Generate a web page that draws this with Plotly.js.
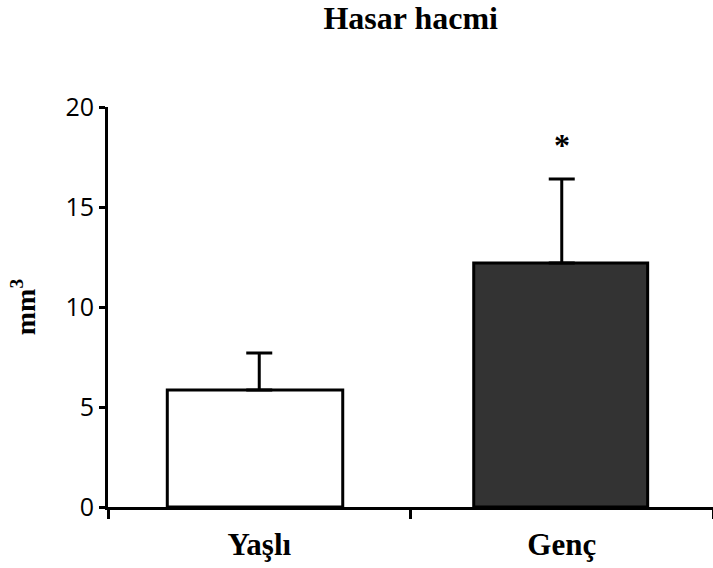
<!DOCTYPE html>
<html>
<head>
<meta charset="utf-8">
<script src="https://cdn.plot.ly/plotly-3.0.1.min.js"></script>
<style>
  html, body { margin: 0; padding: 0; background: #ffffff; }
  #chart { width: 713px; height: 568px; }
</style>
</head>
<body>
<div id="chart"></div>
<script>
// Lesion volume (mm³) by age group: mean with upward SD bar
const groups = ['Yaşlı', 'Genç'];
const means = [5.85, 12.2];
const sd = [1.85, 4.2];
const fills = ['#ffffff', '#333333'];
const significance = ['', '*'];

const serif = 'Liberation Serif, Times New Roman, serif';
const sans = 'Open Sans, Noto Sans, sans-serif';

const bars = {
  type: 'bar',
  x: groups,
  y: means,
  width: [0.58, 0.575],
  offset: [-0.304, -0.291],
  marker: { color: fills, line: { color: '#000000', width: 3 } },
  hoverinfo: 'none'
};

// SD whiskers centred on each category
const whiskers = {
  type: 'scatter',
  mode: 'markers',
  x: groups,
  y: means,
  marker: { size: 1, opacity: 0 },
  error_y: {
    type: 'data',
    symmetric: false,
    array: sd,
    arrayminus: sd.map(() => 0),
    color: '#000000',
    thickness: 3,
    width: 13
  },
  hoverinfo: 'none'
};

// significance marks sit just above each SD whisker
const annotations = groups.map((g, i) => ({
  x: g,
  y: means[i] + sd[i],
  yref: 'y',
  text: significance[i],
  showarrow: false,
  yanchor: 'bottom',
  yshift: 14,
  font: { family: serif, size: 32, color: '#000000', weight: 'bold' }
})).filter(a => a.text);

const layout = {
  width: 713,
  height: 568,
  margin: { l: 108, r: 0, t: 107, b: 61 },
  paper_bgcolor: '#ffffff',
  plot_bgcolor: '#ffffff',
  showlegend: false,
  title: {
    text: 'Hasar hacmi',
    x: 0.576, xanchor: 'center',
    y: 0.968, yanchor: 'middle',
    font: { family: serif, size: 32, color: '#000000', weight: 'bold' }
  },
  xaxis: {
    type: 'category',
    range: [-0.5, 1.5],
    showline: true,
    linecolor: '#000000',
    linewidth: 3,
    ticks: 'outside',
    tickson: 'boundaries',
    ticklen: 9,
    tickwidth: 3,
    tickcolor: '#000000',
    ticklabelstandoff: 8,
    tickfont: { family: serif, size: 31, color: '#000000', weight: 'bold' },
    showgrid: false,
    zeroline: false,
    fixedrange: true
  },
  yaxis: {
    range: [0, 20],
    tickvals: [0, 5, 10, 15, 20],
    showline: true,
    linecolor: '#000000',
    linewidth: 3,
    ticks: 'outside',
    ticklen: 6,
    tickwidth: 3,
    tickcolor: '#000000',
    tickfont: { family: sans, size: 25, color: '#000000' },
    showgrid: false,
    zeroline: false,
    fixedrange: true,
    title: {
      text: 'mm<sup>3</sup>',
      standoff: 22,
      font: { family: serif, size: 28, color: '#000000', weight: 'bold' }
    }
  },
  annotations: annotations
};

Plotly.newPlot('chart', [bars, whiskers], layout, { displayModeBar: false, staticPlot: true });
</script>
</body>
</html>
